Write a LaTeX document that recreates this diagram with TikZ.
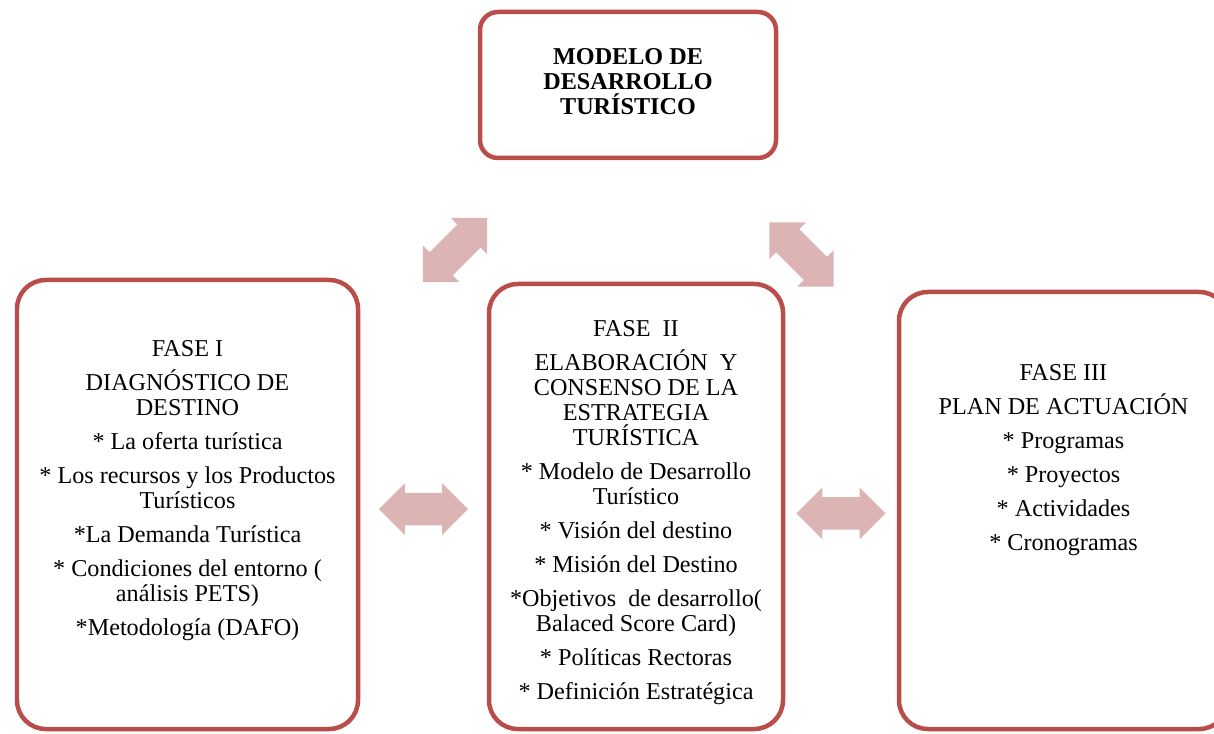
\documentclass[tikz,border=0pt]{standalone}
\usepackage{fontspec}
\setmainfont{Liberation Serif}
\usepackage{tikz}
\usetikzlibrary{positioning,shapes.arrows,calc}

\definecolor{boxred}{RGB}{185,77,74}
\definecolor{arrowpink}{RGB}{221,180,180}

\begin{document}
\begin{tikzpicture}[
    phasebox/.style={draw=boxred, line width=3.2pt, rounded corners=0.72cm,
                     minimum width=#1, inner sep=0pt},
    phasetext/.style={anchor=north, align=center, inner sep=0pt,
                      font=\fontsize{17.2}{17.8}\selectfont},
    linkarrow/.style={double arrow, fill=arrowpink, draw=none,
                      inner xsep=0pt, inner ysep=0.4cm,
                      double arrow tip angle=90, double arrow head extend=0.24cm,
                      minimum width=1.28cm, minimum height=#1},
]

\useasboundingbox (0,0) rectangle (30.35,18.325);
\clip (0,0) rectangle (30.35,18.325);

% Top box
\node[phasebox=7.4cm, rounded corners=0.45cm, minimum height=3.65cm]
      (modelo) at (15.7,16.2) {};
\node[phasetext, font=\fontsize{17.2}{17.8}\selectfont\bfseries,
      at={([yshift=-0.95cm]modelo.north)}] (modelotxt)
      {MODELO DE\\DESARROLLO\\TURÍSTICO};

% Fase I
\node[phasebox=8.525cm, minimum height=11.225cm] (faseI) at (4.6875,5.7125) {};
\node[phasetext, at={([yshift=-1.55cm]faseI.north)}] (faseItxt)
      {FASE I\\[6.4pt]
       DIAGNÓSTICO DE\\DESTINO\\[6.4pt]
       * La oferta turística\\[6.4pt]
       * Los recursos y los Productos\\Turísticos\\[6.4pt]
       *La Demanda Turística\\[6.4pt]
       * Condiciones del entorno (\\análisis PETS)\\[6.4pt]
       *Metodología (DAFO)};

% Fase II
\node[phasebox=7.35cm, minimum height=11.125cm] (faseII) at (15.9,5.6625) {};
\node[phasetext, at={([yshift=-0.95cm]faseII.north)}] (faseIItxt)
      {FASE\ \ II\\[6.4pt]
       ELABORACIÓN\ \ Y\\CONSENSO DE LA\\ESTRATEGIA\\TURÍSTICA\\[6.4pt]
       * Modelo de Desarrollo\\Turístico\\[6.4pt]
       * Visión del destino\\[6.4pt]
       * Misión del Destino\\[6.4pt]
       *Objetivos\ \ de desarrollo(\\Balaced Score Card)\\[6.4pt]
       * Políticas Rectoras\\[6.4pt]
       * Definición Estratégica};

% Fase III
\node[phasebox=8.225cm, minimum height=10.925cm] (faseIII) at (26.5875,5.5625) {};
\node[phasetext, at={([yshift=-1.87cm]faseIII.north)}] (faseIIItxt)
      {FASE III\\[6.4pt]
       PLAN DE ACTUACIÓN\\[6.4pt]
       * Programas\\[6.4pt]
       * Proyectos\\[6.4pt]
       * Actividades\\[6.4pt]
       * Cronogramas};

% Arrows between phases
\node[linkarrow=2.225cm] (arrI) at ([yshift=-0.09cm]$(faseI.east)!0.5!(faseII.west)$) {};
\node[linkarrow=2.225cm] (arrII) at ([yshift=-0.12cm]$(faseII.east)!0.5!(faseIII.west)$) {};

% Arrows to the model
\node[linkarrow=2.275cm, rotate=45]  (arrtopI)  at (11.375,12.075) {};
\node[linkarrow=2.275cm, rotate=-45] (arrtopII) at (20.0375,11.9625) {};

\end{tikzpicture}
\end{document}
